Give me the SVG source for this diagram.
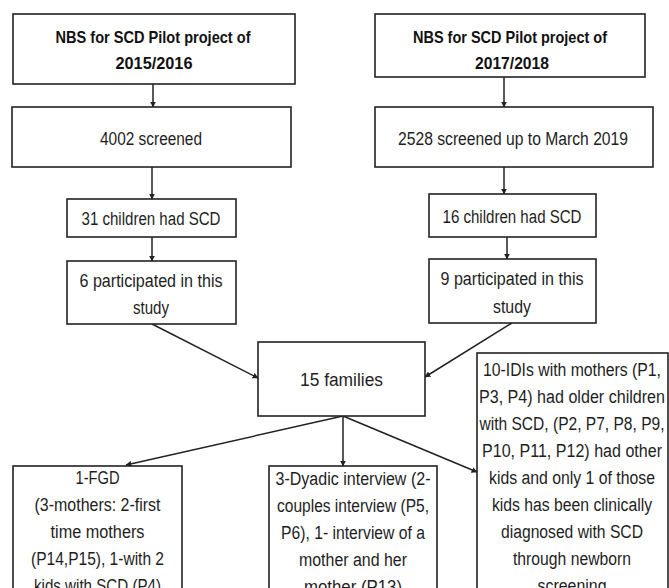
<svg xmlns="http://www.w3.org/2000/svg" width="669" height="588" viewBox="0 0 669 588">
<defs>
<marker id="ah" viewBox="0 0 10 10" refX="9" refY="5" markerWidth="4" markerHeight="4" orient="auto" markerUnits="strokeWidth">
<path d="M0,0 L10,5 L0,10 z" fill="#222"/>
</marker>
<style>
.box{fill:#fff;stroke:#222;stroke-width:1.6}
.t{font-family:"Liberation Sans",Arial,sans-serif;font-size:18px;fill:#1e1e1e;text-anchor:middle}
.b{font-family:"Liberation Sans",Arial,sans-serif;font-size:17px;font-weight:bold;fill:#111;text-anchor:middle}
.c{fill:none;stroke:#222;stroke-width:1.5;marker-end:url(#ah)}
</style>
</defs>
<rect width="669" height="588" fill="#fff"/>
<g id="connectors">
<line class="c" x1="153" y1="84" x2="153" y2="107"/>
<line class="c" x1="504" y1="77" x2="504" y2="107"/>
<line class="c" x1="152" y1="167" x2="152" y2="199"/>
<line class="c" x1="504" y1="167" x2="504" y2="194"/>
<line class="c" x1="152" y1="237" x2="152" y2="261"/>
<line class="c" x1="507" y1="237" x2="507" y2="259"/>
<line class="c" x1="152" y1="324" x2="258" y2="378"/>
<line class="c" x1="512" y1="323" x2="425" y2="377"/>
<line class="c" x1="343" y1="416" x2="126" y2="465"/>
<line class="c" x1="343" y1="416" x2="343" y2="466"/>
<line class="c" x1="343" y1="416" x2="477" y2="472"/>
</g>
<g id="n1">
<rect class="box" x="13" y="14" width="282" height="70"/>
<text class="b" x="153" y="43" textLength="195" lengthAdjust="spacingAndGlyphs">NBS for SCD Pilot project of</text>
<text class="b" x="154" y="69" textLength="77" lengthAdjust="spacingAndGlyphs">2015/2016</text>
</g>
<g id="n2">
<rect class="box" x="375" y="14" width="270" height="63"/>
<text class="b" x="510" y="43" textLength="194" lengthAdjust="spacingAndGlyphs">NBS for SCD Pilot project of</text>
<text class="b" x="512" y="69" textLength="74" lengthAdjust="spacingAndGlyphs">2017/2018</text>
</g>
<g id="n3">
<rect class="box" x="12" y="107" width="279" height="60"/>
<text class="t" x="151" y="144.5" textLength="102" lengthAdjust="spacingAndGlyphs">4002 screened</text>
</g>
<g id="n4">
<rect class="box" x="375" y="107" width="278" height="60"/>
<text class="t" x="513" y="144.5" textLength="230" lengthAdjust="spacingAndGlyphs">2528 screened up to March 2019</text>
</g>
<g id="n5">
<rect class="box" x="67" y="199" width="169" height="38"/>
<text class="t" x="151" y="225" textLength="139" lengthAdjust="spacingAndGlyphs">31 children had SCD</text>
</g>
<g id="n6">
<rect class="box" x="429" y="194" width="167" height="43"/>
<text class="t" x="512" y="223" textLength="139" lengthAdjust="spacingAndGlyphs">16 children had SCD</text>
</g>
<g id="n7">
<rect class="box" x="67" y="261" width="169" height="63"/>
<text class="t" x="151" y="286.5" textLength="143" lengthAdjust="spacingAndGlyphs">6 participated in this</text>
<text class="t" x="151" y="313.5" textLength="36" lengthAdjust="spacingAndGlyphs">study</text>
</g>
<g id="n8">
<rect class="box" x="429" y="259" width="167" height="64"/>
<text class="t" x="512" y="284.5" textLength="143" lengthAdjust="spacingAndGlyphs">9 participated in this</text>
<text class="t" x="512" y="312.5" textLength="38" lengthAdjust="spacingAndGlyphs">study</text>
</g>
<g id="n9">
<rect class="box" x="258" y="342" width="167" height="74"/>
<text class="t" x="341.5" y="385.5" textLength="83" lengthAdjust="spacingAndGlyphs">15 families</text>
</g>
<g id="n10">
<rect class="box" x="13" y="466" width="169" height="140"/>
<text class="t" x="97.5" y="483.5" textLength="44" lengthAdjust="spacingAndGlyphs">1-FGD</text>
<text class="t" x="97.5" y="510.5" textLength="126" lengthAdjust="spacingAndGlyphs">(3-mothers: 2-first</text>
<text class="t" x="97.5" y="537.5" textLength="94" lengthAdjust="spacingAndGlyphs">time mothers</text>
<text class="t" x="97.5" y="564.5" textLength="133" lengthAdjust="spacingAndGlyphs">(P14,P15), 1-with 2</text>
<text class="t" x="97.5" y="591.5" textLength="127" lengthAdjust="spacingAndGlyphs">kids with SCD (P4)</text>
</g>
<g id="n11">
<rect class="box" x="269" y="466" width="168" height="140"/>
<text class="t" x="353" y="484.5" textLength="155" lengthAdjust="spacingAndGlyphs">3-Dyadic interview (2-</text>
<text class="t" x="353" y="511.5" textLength="152" lengthAdjust="spacingAndGlyphs">couples interview (P5,</text>
<text class="t" x="353" y="538.5" textLength="144" lengthAdjust="spacingAndGlyphs">P6), 1- interview of a</text>
<text class="t" x="353" y="565.5" textLength="108" lengthAdjust="spacingAndGlyphs">mother and her</text>
<text class="t" x="353" y="592.5" textLength="98" lengthAdjust="spacingAndGlyphs">mother (P13)</text>
</g>
<g id="n12">
<rect class="box" x="477" y="353" width="191" height="250"/>
<text class="t" x="572" y="375.5" textLength="178" lengthAdjust="spacingAndGlyphs">10-IDIs with mothers (P1,</text>
<text class="t" x="572" y="402.5" textLength="186" lengthAdjust="spacingAndGlyphs">P3, P4) had older children</text>
<text class="t" x="572" y="429.5" textLength="185" lengthAdjust="spacingAndGlyphs">with SCD, (P2, P7, P8, P9,</text>
<text class="t" x="572" y="456.5" textLength="180" lengthAdjust="spacingAndGlyphs">P10, P11, P12) had other</text>
<text class="t" x="572" y="483.5" textLength="166" lengthAdjust="spacingAndGlyphs">kids and only 1 of those</text>
<text class="t" x="572" y="510.5" textLength="160" lengthAdjust="spacingAndGlyphs">kids has been clinically</text>
<text class="t" x="572" y="537.5" textLength="142" lengthAdjust="spacingAndGlyphs">diagnosed with SCD</text>
<text class="t" x="572" y="564.5" textLength="118" lengthAdjust="spacingAndGlyphs">through newborn</text>
<text class="t" x="572" y="591.5" textLength="69" lengthAdjust="spacingAndGlyphs">screening</text>
</g>
</svg>
